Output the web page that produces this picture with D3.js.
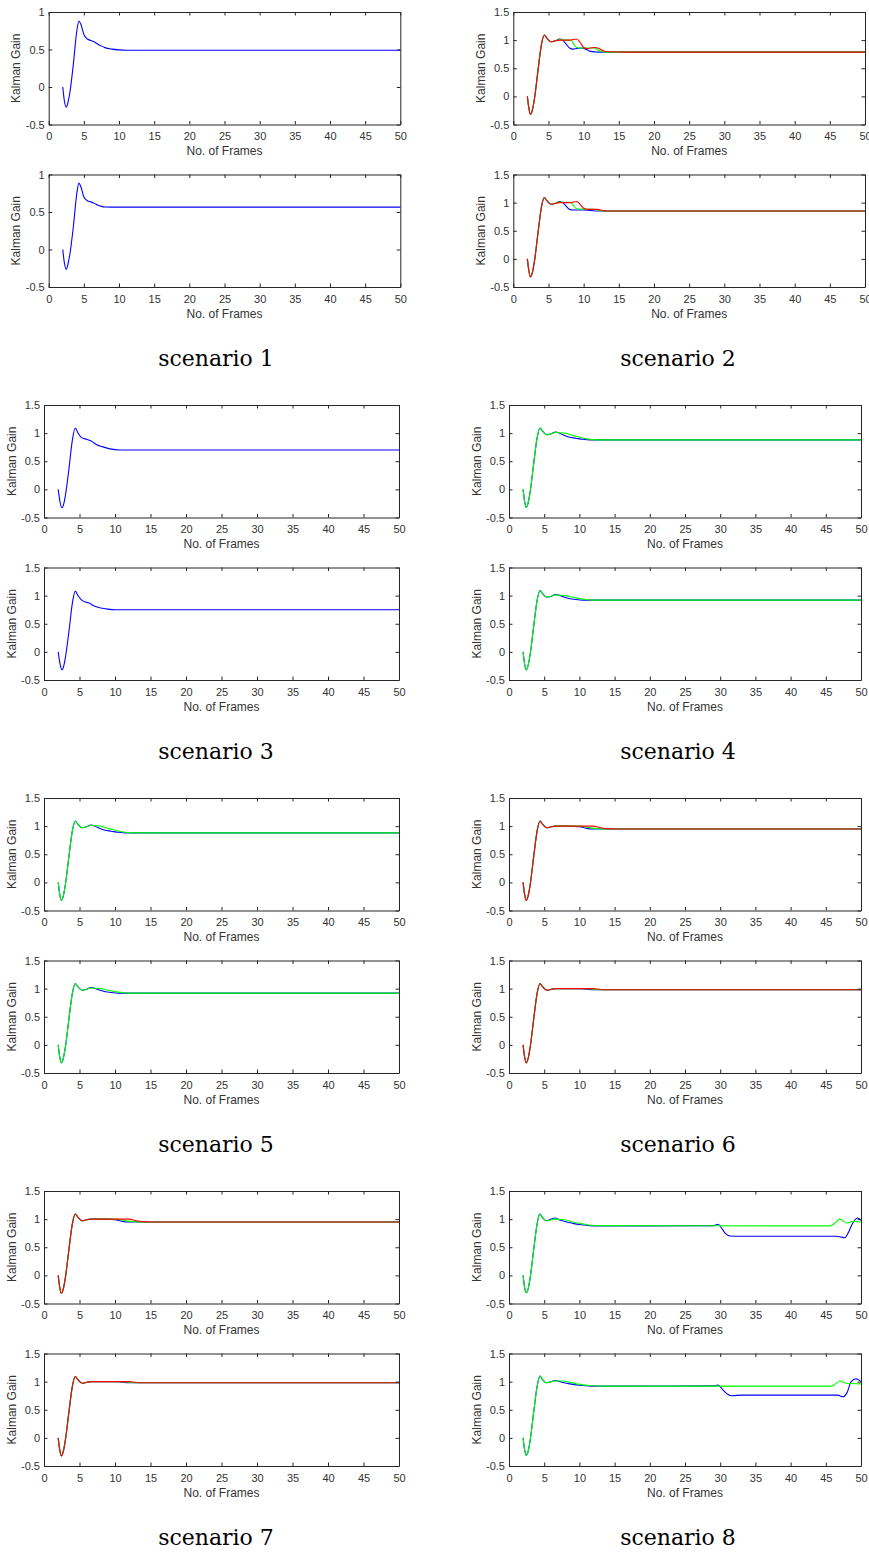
<!DOCTYPE html>
<html>
<head>
<meta charset="utf-8">
<script src="https://cdn.jsdelivr.net/npm/d3@7"></script>
<style>
  body { margin: 0; background: #fff; }
  text { font-family: "Liberation Sans", Arial, sans-serif; }
</style>
</head>
<body>
<svg id="chart"></svg>
<script>
// tick values and labels
const xTicks = [0, 5, 10, 15, 20, 25, 30, 35, 40, 45, 50];
const yTicksShort = [-0.5, 0, 0.5, 1];
const yTickLabelsShort = ["-0.5", "0", "0.5", "1"];
const yTicksTall = [-0.5, 0, 0.5, 1, 1.5];
const yTickLabelsTall = ["-0.5", "0", "0.5", "1", "1.5"];
const scenarioNames = ["scenario 1", "scenario 2", "scenario 3", "scenario 4",
                       "scenario 5", "scenario 6", "scenario 7", "scenario 8"];

// series as [frame, kalman gain] pairs
// scenario 1
const s1a_blue = [[2,0],[2.25,-0.2],[2.5,-0.27],[2.75,-0.2],[3,-0.08],[3.5,0.3],[4,0.75],[4.3,0.88],[4.6,0.83],[5,0.7],[5.5,0.64],[6,0.62],[6.5,0.6],[7,0.57],[7.5,0.545],[8,0.525],[9,0.505],[10,0.495],[11,0.49],[49.8,0.49],[50,0.5]];
const s1b_blue = [[2,0],[2.25,-0.19],[2.5,-0.265],[2.75,-0.19],[3,-0.07],[3.5,0.3],[4,0.75],[4.3,0.885],[4.6,0.83],[5,0.7],[5.5,0.65],[6,0.635],[6.5,0.615],[7,0.59],[7.5,0.575],[8,0.567],[9,0.565],[50,0.565]];
// scenario 2
const s2a_blue  = [[2,0],[2.2,-0.2],[2.45,-0.32],[2.7,-0.25],[3,-0.05],[3.5,0.45],[4,0.92],[4.4,1.09],[4.8,1.03],[5.4,0.97],[6,0.99],[6.6,1.02],[7,1.0],[7.5,0.93],[8,0.86],[8.5,0.84],[9,0.85],[9.7,0.86],[10.3,0.84],[11,0.8],[11.7,0.79],[12.5,0.786],[50,0.786]];
const s2a_green = [[2,0],[2.2,-0.2],[2.45,-0.32],[2.7,-0.25],[3,-0.05],[3.5,0.45],[4,0.92],[4.4,1.09],[4.8,1.03],[5.4,0.97],[6,0.99],[6.6,1.01],[7.5,1.0],[8.2,1.0],[8.6,0.93],[9,0.87],[9.5,0.86],[11.5,0.86],[12,0.83],[12.5,0.8],[13.2,0.786],[50,0.786]];
const s2a_red   = [[2,0],[2.2,-0.2],[2.45,-0.32],[2.7,-0.25],[3,-0.05],[3.5,0.45],[4,0.92],[4.4,1.09],[4.8,1.03],[5.4,0.97],[6,0.99],[6.6,1.0],[8,1.0],[9,1.02],[9.5,0.96],[10,0.87],[10.5,0.85],[11,0.86],[11.6,0.87],[12.2,0.85],[12.8,0.81],[13.5,0.792],[16,0.786],[50,0.786]];
const s2b_blue  = [[2,0],[2.2,-0.2],[2.45,-0.32],[2.7,-0.25],[3,-0.05],[3.5,0.45],[4,0.92],[4.4,1.09],[4.8,1.03],[5.4,0.97],[6,0.99],[6.6,1.02],[7,1.0],[7.5,0.94],[8,0.88],[8.5,0.87],[10,0.87],[11,0.86],[12,0.85],[50,0.85]];
const s2b_green = [[2,0],[2.2,-0.2],[2.45,-0.32],[2.7,-0.25],[3,-0.05],[3.5,0.45],[4,0.92],[4.4,1.09],[4.8,1.03],[5.4,0.97],[6,0.99],[6.6,1.01],[8.2,1.0],[8.6,0.94],[9,0.89],[11.5,0.88],[12.3,0.86],[13,0.85],[50,0.85]];
const s2b_red   = [[2,0],[2.2,-0.2],[2.45,-0.32],[2.7,-0.25],[3,-0.05],[3.5,0.45],[4,0.92],[4.4,1.09],[4.8,1.03],[5.4,0.97],[6,0.99],[6.6,1.0],[8,1.0],[9,1.02],[9.5,0.97],[10,0.9],[10.5,0.88],[12,0.88],[12.7,0.86],[13.3,0.85],[50,0.85]];
// scenario 3
const s3a_blue = [[2,0],[2.25,-0.22],[2.55,-0.33],[2.8,-0.25],[3,-0.12],[3.5,0.35],[4,0.88],[4.4,1.09],[4.8,1.0],[5.3,0.92],[6,0.89],[6.5,0.87],[7,0.83],[7.5,0.79],[8.2,0.76],[9.3,0.72],[10.7,0.70],[50,0.70]];
const s3b_blue = [[2,0],[2.25,-0.21],[2.55,-0.32],[2.8,-0.24],[3,-0.11],[3.5,0.35],[4,0.87],[4.4,1.08],[4.8,1.0],[5.3,0.92],[6,0.88],[6.5,0.86],[7,0.82],[8,0.78],[9,0.76],[10,0.75],[50,0.75]];
// scenario 4
const s4a_blue  = [[2,0],[2.2,-0.2],[2.45,-0.32],[2.7,-0.25],[3,-0.05],[3.5,0.45],[4,0.92],[4.4,1.09],[4.8,1.03],[5.4,0.97],[6,0.99],[6.6,1.02],[7.5,0.98],[8.5,0.93],[9.5,0.91],[10.5,0.89],[11.5,0.88],[50,0.88]];
const s4a_green = [[2,0],[2.2,-0.2],[2.45,-0.32],[2.7,-0.25],[3,-0.05],[3.5,0.45],[4,0.92],[4.4,1.09],[4.8,1.03],[5.4,0.97],[6,0.99],[6.6,1.01],[8,1.0],[9,0.96],[10,0.93],[11,0.9],[12,0.885],[13,0.88],[50,0.88]];
const s4b_blue  = [[2,0],[2.2,-0.2],[2.45,-0.32],[2.7,-0.25],[3,-0.05],[3.5,0.45],[4,0.92],[4.4,1.09],[4.8,1.03],[5.4,0.97],[6,0.99],[6.6,1.02],[7.5,0.99],[8.5,0.95],[9.5,0.93],[10.5,0.92],[50,0.92]];
const s4b_green = [[2,0],[2.2,-0.2],[2.45,-0.32],[2.7,-0.25],[3,-0.05],[3.5,0.45],[4,0.92],[4.4,1.09],[4.8,1.03],[5.4,0.97],[6,0.99],[6.6,1.01],[8,1.0],[9,0.97],[10,0.95],[11,0.93],[12,0.92],[50,0.92]];
// scenario 5
const s5a_blue  = [[2,0],[2.2,-0.2],[2.45,-0.32],[2.7,-0.25],[3,-0.05],[3.5,0.45],[4,0.92],[4.4,1.09],[4.8,1.03],[5.4,0.97],[6,0.99],[6.6,1.02],[7.5,0.98],[8.5,0.93],[9.5,0.91],[10.5,0.89],[11.5,0.88],[50,0.88]];
const s5a_green = [[2,0],[2.2,-0.2],[2.45,-0.32],[2.7,-0.25],[3,-0.05],[3.5,0.45],[4,0.92],[4.4,1.09],[4.8,1.03],[5.4,0.97],[6,0.99],[6.6,1.01],[8,1.0],[9,0.96],[10,0.93],[11,0.9],[12,0.885],[13,0.88],[50,0.88]];
const s5b_blue  = [[2,0],[2.2,-0.2],[2.45,-0.32],[2.7,-0.25],[3,-0.05],[3.5,0.45],[4,0.92],[4.4,1.09],[4.8,1.03],[5.4,0.97],[6,0.99],[6.6,1.02],[7.5,0.99],[8.5,0.95],[9.5,0.93],[10.5,0.92],[50,0.92]];
const s5b_green = [[2,0],[2.2,-0.2],[2.45,-0.32],[2.7,-0.25],[3,-0.05],[3.5,0.45],[4,0.92],[4.4,1.09],[4.8,1.03],[5.4,0.97],[6,0.99],[6.6,1.01],[8,1.0],[9,0.97],[10,0.95],[11,0.93],[12,0.92],[50,0.92]];
// scenario 6
const s6a_blue  = [[2,0],[2.2,-0.2],[2.45,-0.32],[2.7,-0.25],[3,-0.05],[3.5,0.45],[4,0.92],[4.4,1.09],[4.8,1.03],[5.4,0.97],[6,0.99],[6.6,1.0],[8,1.0],[10,0.99],[11,0.96],[12,0.95],[50,0.95]];
const s6a_green = [[2,0],[2.2,-0.2],[2.45,-0.32],[2.7,-0.25],[3,-0.05],[3.5,0.45],[4,0.92],[4.4,1.09],[4.8,1.03],[5.4,0.97],[6,0.99],[6.6,1.0],[10,1.0],[11.5,0.97],[13,0.95],[50,0.95]];
const s6a_red   = [[2,0],[2.2,-0.2],[2.45,-0.32],[2.7,-0.25],[3,-0.05],[3.5,0.45],[4,0.92],[4.4,1.09],[4.8,1.03],[5.4,0.97],[6,0.99],[6.6,1.0],[12,1.0],[13,0.97],[14,0.955],[15,0.95],[50,0.95]];
const s6b_blue  = [[2,0],[2.2,-0.2],[2.45,-0.32],[2.7,-0.25],[3,-0.05],[3.5,0.45],[4,0.92],[4.4,1.09],[4.8,1.03],[5.4,0.97],[6,0.99],[6.6,1.0],[10,1.0],[11,0.99],[12,0.98],[50,0.98]];
const s6b_green = [[2,0],[2.2,-0.2],[2.45,-0.32],[2.7,-0.25],[3,-0.05],[3.5,0.45],[4,0.92],[4.4,1.09],[4.8,1.03],[5.4,0.97],[6,0.99],[6.6,1.0],[11,1.0],[12,0.99],[13,0.98],[50,0.98]];
const s6b_red   = [[2,0],[2.2,-0.2],[2.45,-0.32],[2.7,-0.25],[3,-0.05],[3.5,0.45],[4,0.92],[4.4,1.09],[4.8,1.03],[5.4,0.97],[6,0.99],[6.6,1.0],[12,1.0],[13,0.985],[14,0.98],[50,0.98]];
// scenario 7
const s7a_blue  = [[2,0],[2.2,-0.2],[2.45,-0.32],[2.7,-0.25],[3,-0.05],[3.5,0.45],[4,0.92],[4.4,1.09],[4.8,1.03],[5.4,0.97],[6,0.99],[6.6,1.0],[9,1.0],[10,0.99],[11,0.96],[12,0.95],[50,0.95]];
const s7a_green = [[2,0],[2.2,-0.2],[2.45,-0.32],[2.7,-0.25],[3,-0.05],[3.5,0.45],[4,0.92],[4.4,1.09],[4.8,1.03],[5.4,0.97],[6,0.99],[6.6,1.0],[10,1.0],[11.5,0.97],[13,0.95],[50,0.95]];
const s7a_red   = [[2,0],[2.2,-0.2],[2.45,-0.32],[2.7,-0.25],[3,-0.05],[3.5,0.45],[4,0.92],[4.4,1.09],[4.8,1.03],[5.4,0.97],[6,0.99],[6.6,1.0],[12,1.0],[13,0.97],[14,0.955],[15,0.95],[50,0.95]];
const s7b_blue  = [[2,0],[2.2,-0.2],[2.45,-0.32],[2.7,-0.25],[3,-0.05],[3.5,0.45],[4,0.92],[4.4,1.09],[4.8,1.03],[5.4,0.97],[6,0.99],[6.6,1.0],[10,1.0],[11,0.99],[12,0.98],[50,0.98]];
const s7b_green = [[2,0],[2.2,-0.2],[2.45,-0.32],[2.7,-0.25],[3,-0.05],[3.5,0.45],[4,0.92],[4.4,1.09],[4.8,1.03],[5.4,0.97],[6,0.99],[6.6,1.0],[11,1.0],[12,0.99],[13,0.98],[50,0.98]];
const s7b_red   = [[2,0],[2.2,-0.2],[2.45,-0.32],[2.7,-0.25],[3,-0.05],[3.5,0.45],[4,0.92],[4.4,1.09],[4.8,1.03],[5.4,0.97],[6,0.99],[6.6,1.0],[12,1.0],[13,0.985],[14,0.98],[50,0.98]];
// scenario 8
const s8a_blue  = [[2,0],[2.2,-0.2],[2.45,-0.31],[2.7,-0.25],[3,-0.05],[3.5,0.45],[4,0.92],[4.36,1.09],[4.8,1.02],[5.3,0.97],[6,1.0],[6.5,1.02],[7.3,0.98],[8.2,0.95],[9.2,0.92],[10.3,0.9],[11.5,0.885],[13,0.88],[29,0.885],[29.7,0.91],[30.2,0.84],[30.7,0.75],[31.4,0.70],[33,0.695],[46.5,0.695],[47.2,0.68],[47.7,0.67],[48.2,0.76],[48.7,0.9],[49.5,1.02],[50,0.98]];
const s8a_green = [[2,0],[2.2,-0.2],[2.45,-0.31],[2.7,-0.25],[3,-0.05],[3.5,0.45],[4,0.92],[4.36,1.09],[4.8,1.02],[5.3,0.97],[6,0.99],[6.5,1.0],[7.9,0.99],[9.1,0.95],[10.3,0.92],[11.7,0.89],[13,0.885],[45.6,0.88],[46.3,0.93],[47,1.0],[48,0.93],[48.9,0.96],[50,0.95]];
const s8b_blue  = [[2,0],[2.2,-0.2],[2.45,-0.31],[2.7,-0.25],[3,-0.05],[3.5,0.45],[4,0.92],[4.4,1.10],[4.8,1.03],[5.3,0.98],[6,1.0],[6.5,1.02],[7.5,0.99],[8.65,0.96],[10.5,0.93],[12,0.92],[29,0.925],[29.7,0.94],[30.4,0.85],[31.1,0.77],[31.6,0.75],[33,0.76],[46.7,0.76],[47.4,0.73],[48,0.8],[48.6,1.0],[49.3,1.05],[50,1.0]];
const s8b_green = [[2,0],[2.2,-0.2],[2.45,-0.31],[2.7,-0.25],[3,-0.05],[3.5,0.45],[4,0.92],[4.4,1.10],[4.8,1.03],[5.3,0.98],[6,1.0],[6.5,1.01],[7.7,1.01],[9.6,0.96],[11.5,0.93],[13,0.92],[45.8,0.92],[46.4,0.96],[47,1.01],[47.9,0.97],[50,0.96]];

const BLUE = "#0000ff", GREEN = "#00ff00", RED = "#ff0000";

// panel layout (pixel boxes of each pair of axes)
const rowTop = [12, 405, 798, 1191];
const subGap = 162.5;
const plotH = 112.5;
const colX = [
  [[48.7, 400.3], [513.3, 865]],
  [[44, 399], [509, 861]],
  [[44, 399], [509, 861]],
  [[44, 399], [509, 861]]
];
const labelY = [358, 751, 1144, 1537];
const labelX = [216, 678];

const panels = [
  { s: 0, sub: 0, tall: false, series: [[s1a_blue, BLUE]] },
  { s: 0, sub: 1, tall: false, series: [[s1b_blue, BLUE]] },
  { s: 1, sub: 0, tall: true, series: [[s2a_blue, BLUE], [s2a_green, GREEN], [s2a_red, RED]] },
  { s: 1, sub: 1, tall: true, series: [[s2b_blue, BLUE], [s2b_green, GREEN], [s2b_red, RED]] },
  { s: 2, sub: 0, tall: true, series: [[s3a_blue, BLUE]] },
  { s: 2, sub: 1, tall: true, series: [[s3b_blue, BLUE]] },
  { s: 3, sub: 0, tall: true, series: [[s4a_blue, BLUE], [s4a_green, GREEN]] },
  { s: 3, sub: 1, tall: true, series: [[s4b_blue, BLUE], [s4b_green, GREEN]] },
  { s: 4, sub: 0, tall: true, series: [[s5a_blue, BLUE], [s5a_green, GREEN]] },
  { s: 4, sub: 1, tall: true, series: [[s5b_blue, BLUE], [s5b_green, GREEN]] },
  { s: 5, sub: 0, tall: true, series: [[s6a_blue, BLUE], [s6a_green, GREEN], [s6a_red, RED]] },
  { s: 5, sub: 1, tall: true, series: [[s6b_blue, BLUE], [s6b_green, GREEN], [s6b_red, RED]] },
  { s: 6, sub: 0, tall: true, series: [[s7a_blue, BLUE], [s7a_green, GREEN], [s7a_red, RED]] },
  { s: 6, sub: 1, tall: true, series: [[s7b_blue, BLUE], [s7b_green, GREEN], [s7b_red, RED]] },
  { s: 7, sub: 0, tall: true, series: [[s8a_blue, BLUE], [s8a_green, GREEN]] },
  { s: 7, sub: 1, tall: true, series: [[s8b_blue, BLUE], [s8b_green, GREEN]] }
];

const svg = d3.select("#chart")
  .attr("width", 869)
  .attr("height", 1552);

const axisColor = "#262626";
const tickLen = 3.5;

panels.forEach(p => {
  const row = Math.floor(p.s / 2);
  const col = p.s % 2;
  const [x0, x1] = colX[row][col];
  const y0 = rowTop[row] + p.sub * subGap;
  const y1 = y0 + plotH;

  const yTicks = p.tall ? yTicksTall : yTicksShort;
  const yLabels = p.tall ? yTickLabelsTall : yTickLabelsShort;

  const x = d3.scaleLinear().domain([0, 50]).range([x0, x1]);
  const y = d3.scaleLinear().domain([-0.5, p.tall ? 1.5 : 1]).range([y1, y0]);

  const g = svg.append("g");

  // lines
  const line = d3.line()
    .x(d => x(d[0]))
    .y(d => y(d[1]))
    .curve(d3.curveMonotoneX);

  p.series.forEach(([data, color]) => {
    g.append("path")
      .datum(data)
      .attr("fill", "none")
      .attr("stroke", color)
      .attr("stroke-width", 1.1)
      .attr("d", line);
  });

  // axes: ticks pointing inward on all four sides
  const styleAxis = sel => {
    sel.selectAll(".domain").attr("stroke", axisColor).attr("stroke-width", 1);
    sel.selectAll(".tick line").attr("stroke", axisColor);
    sel.selectAll(".tick text")
      .attr("fill", "#333")
      .style("font-size", "11px")
      .style("font-family", "'Liberation Sans', Arial, sans-serif");
  };

  g.append("g")
    .attr("transform", `translate(0,${y1})`)
    .call(d3.axisBottom(x).tickValues(xTicks).tickFormat(d3.format("d"))
      .tickSizeInner(-tickLen).tickSizeOuter(0).tickPadding(8))
    .call(styleAxis);

  g.append("g")
    .attr("transform", `translate(0,${y0})`)
    .call(d3.axisTop(x).tickValues(xTicks).tickFormat("")
      .tickSizeInner(-tickLen).tickSizeOuter(0))
    .call(styleAxis);

  g.append("g")
    .attr("transform", `translate(${x0},0)`)
    .call(d3.axisLeft(y).tickValues(yTicks).tickFormat((d, i) => yLabels[i])
      .tickSizeInner(-tickLen).tickSizeOuter(0).tickPadding(4))
    .call(styleAxis);

  g.append("g")
    .attr("transform", `translate(${x1},0)`)
    .call(d3.axisRight(y).tickValues(yTicks).tickFormat("")
      .tickSizeInner(-tickLen).tickSizeOuter(0))
    .call(styleAxis);

  // axis titles
  g.append("text")
    .attr("x", (x0 + x1) / 2)
    .attr("y", y1 + 26.5)
    .attr("dy", "0.35em")
    .attr("text-anchor", "middle")
    .attr("fill", "#333")
    .style("font-size", "12px")
    .text("No. of Frames");

  g.append("text")
    .attr("transform", `translate(${x0 - 32.5},${(y0 + y1) / 2}) rotate(-90)`)
    .attr("dy", "0.35em")
    .attr("text-anchor", "middle")
    .attr("fill", "#333")
    .style("font-size", "12px")
    .text("Kalman Gain");
});

// scenario captions
scenarioNames.forEach((name, i) => {
  svg.append("text")
    .attr("x", labelX[i % 2])
    .attr("y", labelY[Math.floor(i / 2)])
    .attr("dy", "0.35em")
    .attr("text-anchor", "middle")
    .attr("fill", "#000")
    .style("font-family", "'DejaVu Serif', serif")
    .style("font-size", "22px")
    .text(name);
});
</script>
</body>
</html>
